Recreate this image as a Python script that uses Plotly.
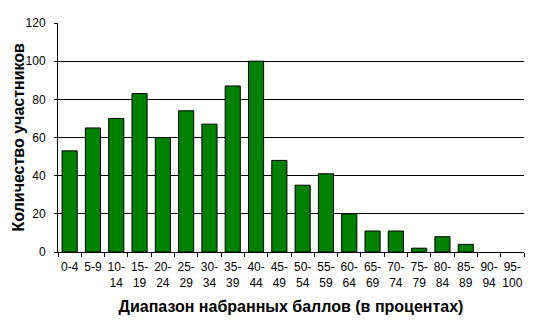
import plotly.graph_objects as go

categories = ["0-4", "5-9", "10-<br>14", "15-<br>19", "20-<br>24", "25-<br>29", "30-<br>34",
              "35-<br>39", "40-<br>44", "45-<br>49", "50-<br>54", "55-<br>59", "60-<br>64",
              "65-<br>69", "70-<br>74", "75-<br>79", "80-<br>84", "85-<br>89", "90-<br>94", "95-<br>100"]
counts = [53, 65, 70, 83, 60, 74, 67, 87, 100, 48, 35, 41, 20, 11, 11, 2, 8, 4, 0, 0]
y_ticks = [0, 20, 40, 60, 80, 100, 120]
x_title = "Диапазон набранных баллов (в процентах)"
y_title = "Количество участников"

line_widths = [1 if v > 0 else 0 for v in counts]

fig = go.Figure(go.Bar(
    x=categories, y=counts,
    marker=dict(color="#008000", line=dict(color="black", width=line_widths)),
))

font_family = "Liberation Sans, Arial, sans-serif"
fig.update_layout(
    width=544, height=320,
    margin=dict(l=58, r=20, t=23, b=68),
    plot_bgcolor="white", paper_bgcolor="white",
    bargap=0.35,
    showlegend=False,
    font=dict(family=font_family, size=12, color="black"),
    annotations=[dict(
        text=y_title, textangle=-90,
        xref="paper", yref="paper", x=0, y=0.5,
        xanchor="center", yanchor="middle", xshift=-40, showarrow=False,
        font=dict(size=16, color="black", family=font_family, weight="bold"),
    )],
)
fig.update_xaxes(
    type="category",
    automargin=False,
    tickson="boundaries",
    tickangle=0,
    ticks="outside", ticklen=4, tickcolor="black",
    ticklabelstandoff=4,
    showline=True, linecolor="black", linewidth=1,
    showgrid=False,
    tickfont=dict(size=12, color="black"),
    title=dict(text=x_title,
               font=dict(size=16, color="black", family=font_family, weight="bold"), standoff=11),
)
fig.update_yaxes(
    automargin=False,
    range=[0, 120], tickvals=y_ticks,
    ticks="outside", ticklen=3, tickcolor="black",
    ticklabelstandoff=6,
    showline=True, linecolor="black", linewidth=1,
    showgrid=True, gridcolor="black", gridwidth=1,
    zeroline=False,
    tickfont=dict(size=12, color="black"),
)

fig.write_html("out.html")
